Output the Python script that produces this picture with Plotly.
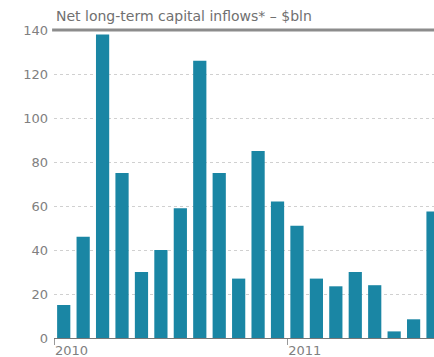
import plotly.graph_objects as go

# Monthly net long-term capital inflows, $bln
months = ["Jan 2010", "Feb 2010", "Mar 2010", "Apr 2010", "May 2010", "Jun 2010",
          "Jul 2010", "Aug 2010", "Sep 2010", "Oct 2010", "Nov 2010", "Dec 2010",
          "Jan 2011", "Feb 2011", "Mar 2011", "Apr 2011", "May 2011", "Jun 2011",
          "Jul 2011", "Aug 2011"]
inflows = [15, 46, 138, 75, 30, 40, 59, 126, 75, 27, 85, 62,
           51, 27, 23.5, 30, 24, 3, 8.5, 57.5]

year_ticks = [-0.5, 11.5]
year_labels = ["2010", "2011"]
y_ticks = [0, 20, 40, 60, 80, 100, 120, 140]

bar_color = "#1a86a4"
text_color = "#808080"
font_family = "DejaVu Sans, Arial, sans-serif"

fig = go.Figure()
fig.add_trace(go.Bar(
    x=list(range(len(months))),
    y=inflows,
    hovertext=months,
    marker=dict(color=bar_color, line=dict(width=0)),
))

fig.update_layout(
    width=434, height=357,
    margin=dict(l=54, r=0, t=30, b=19),
    paper_bgcolor="white", plot_bgcolor="white",
    bargap=0.32,
    showlegend=False,
    font=dict(family=font_family, size=13, color=text_color),
    xaxis=dict(
        range=[-0.5, 19.05],
        tickvals=year_ticks, ticktext=year_labels,
        ticks="outside", ticklen=6, tickcolor="#999", tickwidth=1,
        ticklabelposition="outside right",
        tickfont=dict(size=13, color=text_color),
        showgrid=False, zeroline=False,
        showline=True, linecolor="#777", linewidth=1,
        fixedrange=True,
    ),
    yaxis=dict(
        range=[0, 140],
        tickvals=y_ticks,
        tickfont=dict(size=13, color=text_color),
        ticks="", ticklabelstandoff=5,
        showgrid=True, gridcolor="#d0d0d0", griddash="dot", gridwidth=1,
        zeroline=False, showline=False,
        fixedrange=True,
    ),
    shapes=[dict(type="line", xref="paper", yref="paper", x0=-0.005, x1=1, y0=1, y1=1,
                 line=dict(color="#8c8c8c", width=3), layer="above")],
    annotations=[dict(
        text="Net long-term capital inflows* \u2013 $bln",
        xref="paper", yref="paper", x=0.0, y=1.0, xanchor="left", yanchor="bottom",
        yshift=4, showarrow=False,
        font=dict(family=font_family, size=14, color="#707070"),
    )],
)

fig.write_html("out.html")
